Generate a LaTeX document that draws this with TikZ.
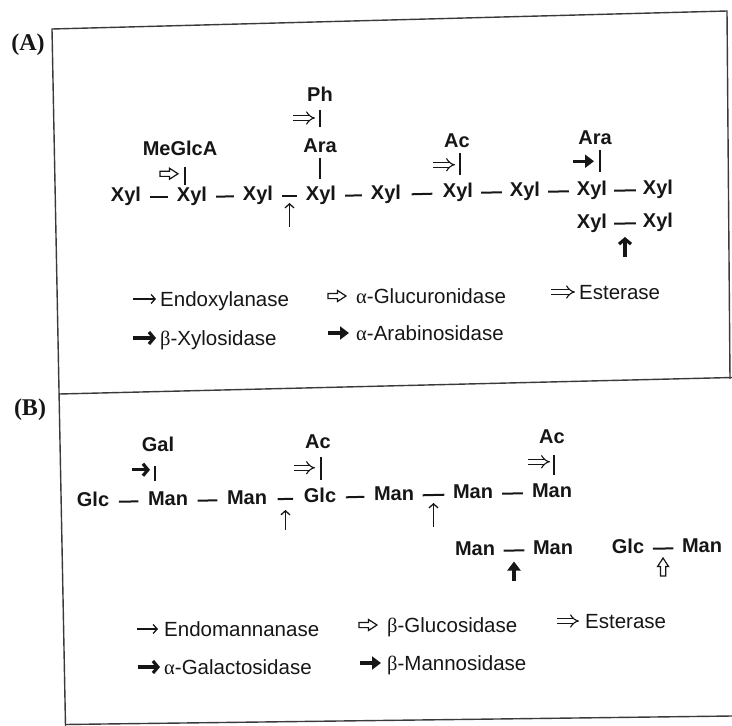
\documentclass[tikz,border=0pt]{standalone}
\usepackage{fontspec}
\setmainfont{Liberation Sans}
\newfontfamily\gk{Liberation Serif}
\newfontfamily\panelfont{Liberation Serif}
\usetikzlibrary{arrows.meta}
\definecolor{ink}{HTML}{161616}
\definecolor{framec}{HTML}{3A3A3A}
\tikzset{
 sug/.style={font=\fontsize{20}{21}\selectfont\bfseries, inner sep=0pt, text height=14.3pt, text depth=5pt, text=ink},
 leg/.style={font=\fontsize{20.5}{22}\selectfont, anchor=west, inner sep=0pt, text height=14.5pt, text depth=0pt, text=ink},
 panel/.style={font=\panelfont\fontsize{24}{26}\selectfont\bfseries, inner sep=0pt, text=ink},
 bond/.style={line width=2pt, draw=ink, shorten <=#1, shorten >=#1},
 frame/.style={line width=1.4pt, draw=framec},
 endo/.style={line width=1.3pt, draw=ink, -{Straight Barb[length=4pt,width=9pt]}},
 exob/.style={line width=3.2pt, draw=ink, -{Straight Barb[length=5pt,width=12pt]}},
 exof/.style={line width=3.2pt, draw=ink, -{Triangle[length=9pt,width=13pt]}},
 ester/.style={draw=ink, double, double distance=3.5pt, line width=1.1pt, -{Implies}},
 hollowarr/.pic={\draw[draw=ink, line width=1.2pt, fill=white, line join=miter]
   (-18,-2.6) -- (-8.5,-2.6) -- (-8.5,-5.5) -- (0,0) -- (-8.5,5.5) -- (-8.5,2.6) -- (-18,2.6) -- cycle;},
}
\begin{document}
\begin{tikzpicture}[x=1pt,y=-1pt]
\useasboundingbox (0,0) rectangle (732,726);
% frame
\coordinate (ftl) at (52,29);
\coordinate (ftr) at (727,11);
\coordinate (fmr) at (730,379);
\coordinate (fbl) at (65.5,726);
\coordinate (fml) at (59.3,394);
\coordinate (fmre) at (732,377.5);
\coordinate (fbl2) at (65,724.5);
\coordinate (fbr) at (732,716);
\draw[frame] (fbl) -- (ftl) -- (ftr) -- (fmr);
\draw[frame] (fml) -- (fmre);
\draw[frame] (fbl2) -- (fbr);
\node[panel] (pA) at (28,45) {(A)};
\node[panel] (pB) at (30,410) {(B)};

% ---------- Panel A: xylan ----------
\node[sug] (x1) at (126,197) {Xyl};
\node[sug] (x2) at (192,197) {Xyl};
\node[sug] (x3) at (258,196) {Xyl};
\node[sug] (x4) at (321,196) {Xyl};
\node[sug] (x5) at (386,195) {Xyl};
\node[sug] (x6) at (458,193) {Xyl};
\node[sug] (x7) at (525,192) {Xyl};
\node[sug] (x8) at (592,191) {Xyl};
\node[sug] (x9) at (658,190) {Xyl};
\node[sug] (x10) at (592,224) {Xyl};
\node[sug] (x11) at (658,223) {Xyl};
\draw[bond=9pt] (x1) -- (x2);
\draw[bond=9pt] (x2) -- (x3);
\draw[bond=8.5pt] (x3) -- coordinate[pos=.5] (c1) (x4);
\draw[bond=9pt] (x4) -- (x5);
\draw[bond=10.5pt] (x5) -- (x6);
\draw[bond=8pt] (x6) -- (x7);
\draw[bond=8pt] (x7) -- (x8);
\draw[bond=7pt] (x8) -- (x9);
\draw[bond=7pt] (x10) -- coordinate[pos=.5] (c2) (x11);
\draw[endo] ([yshift=-31pt]c1) -- ([yshift=-7pt]c1);
\draw[exob] ([yshift=-33.5pt]c2) -- ([yshift=-13.5pt]c2);

% MeGlcA
\node[sug] (mg) at (180,150.5) {MeGlcA};
\coordinate (mgb) at ([xshift=5pt]mg.south);
\draw[bond=0pt, shorten <=7pt, shorten >=2.5pt] (mgb) -- coordinate[pos=.5] (k1) (mgb |- x2.north);
\pic at ([xshift=-7pt]k1) {hollowarr};
% Ph - Ara
\node[sug] (ph) at (320,96.5) {Ph};
\node[sug] (ar1) at (320,147.5) {Ara};
\draw[bond=0pt, shorten <=4pt, shorten >=11pt] (ph) -- coordinate[pos=.5] (k2) (ar1);
\draw[ester] ([xshift=-27pt,yshift=4pt]k2) -- ([xshift=-5pt,yshift=4pt]k2);
\draw[bond=0pt, shorten <=1pt, shorten >=7.5pt] (ar1) -- (ar1.south |- x4.north);
% Ac
\node[sug] (ac1) at (457,142.5) {Ac};
\coordinate (ac1b) at ([xshift=3pt]ac1.south);
\draw[bond=0pt, shorten <=1pt, shorten >=8.5pt] (ac1b) -- coordinate[pos=.5] (k3) (ac1b |- x6.north);
\draw[ester] ([xshift=-27pt,yshift=3pt]k3) -- ([xshift=-5pt,yshift=3pt]k3);
% Ara
\node[sug] (ar2) at (595,139.5) {Ara};
\coordinate (ar2b) at ([xshift=5pt]ar2.south);
\draw[bond=0pt, shorten <=1pt, shorten >=9.5pt] (ar2b) -- coordinate[pos=.5] (k4) (ar2b |- x8.north);
\draw[exof] ([xshift=-27pt,yshift=4pt]k4) -- ([xshift=-6pt,yshift=4pt]k4);

% Legend A
\node[leg] (la1) at (160,299) {Endoxylanase};
\draw[endo] ([xshift=-27pt]la1.west) -- ([xshift=-4pt]la1.west);
\node[leg] (la2) at (356,296) {{\gk α}-Glucuronidase};
\pic at ([xshift=-10pt]la2.west) {hollowarr};
\node[leg] (la3) at (579,292) {Esterase};
\draw[ester] ([xshift=-28pt]la3.west) -- ([xshift=-4pt]la3.west);
\node[leg] (la4) at (160,338) {{\gk β}-Xylosidase};
\draw[exob] ([xshift=-27pt]la4.west) -- ([xshift=-4pt]la4.west);
\node[leg] (la5) at (356,333) {{\gk α}-Arabinosidase};
\draw[exof] ([xshift=-28pt]la5.west) -- ([xshift=-7pt]la5.west);

% ---------- Panel B: mannan ----------
\node[sug] (g1) at (93,502) {Glc};
\node[sug] (m1) at (168,501) {Man};
\node[sug] (m2) at (247,500) {Man};
\node[sug] (g2) at (320,498) {Glc};
\node[sug] (m3) at (394,496) {Man};
\node[sug] (m4) at (473,494) {Man};
\node[sug] (m5) at (552,493) {Man};
\node[sug] (m6) at (475,551) {Man};
\node[sug] (m7) at (553,550) {Man};
\node[sug] (g3) at (628,549) {Glc};
\node[sug] (m8) at (702,548) {Man};
\draw[bond=9.5pt] (g1) -- (m1);
\draw[bond=9.5pt] (m1) -- (m2);
\draw[bond=10.5pt] (m2) -- coordinate[pos=.5] (c3) (g2);
\draw[bond=9.5pt] (g2) -- (m3);
\draw[bond=8.5pt] (m3) -- coordinate[pos=.5] (c4) (m4);
\draw[bond=9pt] (m4) -- (m5);
\draw[bond=8.5pt] (m6) -- coordinate[pos=.5] (c5) (m7);
\draw[bond=8.5pt] (g3) -- coordinate[pos=.5] (c6) (m8);
\draw[endo] ([yshift=-31pt]c3) -- ([yshift=-11pt]c3);
\draw[endo] ([yshift=-32pt]c4) -- ([yshift=-8pt]c4);
\draw[exof] ([yshift=-30pt]c5) -- ([yshift=-11pt]c5);
\pic[rotate=90] at ([yshift=-9.5pt]c6) {hollowarr};
% Gal
\node[sug] (gal) at (158,446.5) {Gal};
\coordinate (galb) at ([xshift=-3pt]gal.south);
\draw[bond=0pt, shorten <=10pt, shorten >=10.5pt] (galb) -- coordinate[pos=.5] (k5) (galb |- m1.north);
\draw[exob] ([xshift=-23pt,yshift=4pt]k5) -- ([xshift=-5pt,yshift=4pt]k5);
% Ac on Glc
\node[sug] (ac2) at (318,443.5) {Ac};
\coordinate (ac2b) at ([xshift=3pt]ac2.south);
\draw[bond=0pt, shorten <=4pt, shorten >=8.5pt] (ac2b) -- coordinate[pos=.5] (k6) (ac2b |- g2.north);
\draw[ester] ([xshift=-27pt,yshift=3pt]k6) -- ([xshift=-6pt,yshift=3pt]k6);
% Ac on Man
\node[sug] (ac3) at (552,438.5) {Ac};
\coordinate (ac3b) at ([xshift=2pt]ac3.south);
\draw[bond=0pt, shorten <=7pt, shorten >=8.5pt] (ac3b) -- coordinate[pos=.5] (k7) (ac3b |- m5.north);
\draw[ester] ([xshift=-26pt,yshift=4pt]k7) -- ([xshift=-4pt,yshift=4pt]k7);

% Legend B
\node[leg] (lb1) at (164,629) {Endomannanase};
\draw[endo] ([xshift=-27pt]lb1.west) -- ([xshift=-6pt]lb1.west);
\node[leg] (lb2) at (387,625) {{\gk β}-Glucosidase};
\pic at ([xshift=-10pt]lb2.west) {hollowarr};
\node[leg] (lb3) at (585,621) {Esterase};
\draw[ester] ([xshift=-28pt]lb3.west) -- ([xshift=-6pt]lb3.west);
\node[leg] (lb4) at (164,667) {{\gk α}-Galactosidase};
\draw[exob] ([xshift=-26pt]lb4.west) -- ([xshift=-4pt]lb4.west);
\node[leg] (lb5) at (387,663) {{\gk β}-Mannosidase};
\draw[exof] ([xshift=-27pt]lb5.west) -- ([xshift=-6pt]lb5.west);
\end{tikzpicture}
\end{document}
